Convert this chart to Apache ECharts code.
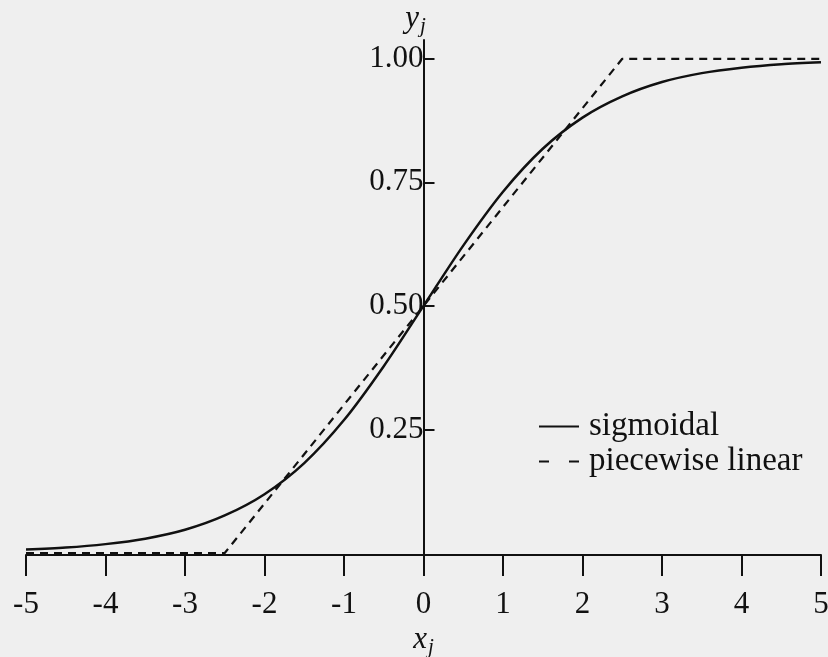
<!DOCTYPE html>
<html>
<head>
<meta charset="utf-8">
<script src="https://cdn.jsdelivr.net/npm/echarts@6/dist/echarts.min.js"></script>
<style>
html,body{margin:0;padding:0;background:#efefef;}
#chart{width:828px;height:657px;}
</style>
</head>
<body>
<div id="chart"></div>
<script>
// Sigmoidal curve at x steps of 0.5
const sigX = [-5,-4.5,-4,-3.5,-3,-2.5,-2,-1.5,-1,-0.5,0,0.5,1,1.5,2,2.5,3,3.5,4,4.5,5];
const sigY = [0.007,0.011,0.018,0.029,0.047,0.076,0.119,0.182,0.269,0.378,0.5,0.622,0.731,0.818,0.881,0.924,0.953,0.971,0.982,0.989,0.993];
// Piecewise linear approximation
const pwX = [-5,-2.5,2.5,5];
const pwY = [0,0,1,1];
// Axis ticks
const xTicks = [-5,-4,-3,-2,-1,0,1,2,3,4,5];
const yTicks = [0.25,0.5,0.75,1];
const seriesNames = ['sigmoidal','piecewise linear'];

const FONT = 'Liberation Serif';
const INK = '#111111';
const GRID = {left:26, right:7, top:40, bottom:102};
const W = 828;
// put the y axis at x = 0 (middle of the x range)
const yAxisOffset = -((W - GRID.left - GRID.right) / 2);

const chart = echarts.init(document.getElementById('chart'), null, {renderer:'canvas'});
chart.setOption({
  backgroundColor:'#efefef',
  animation:false,
  grid:Object.assign({containLabel:false, outerBoundsMode:'none'}, GRID),
  xAxis:{
    type:'value', min:-5, max:5, interval:1,
    axisLine:{onZero:false, lineStyle:{color:INK, width:2}},
    axisTick:{show:true, length:21, lineStyle:{color:INK, width:2}, customValues:xTicks},
    axisLabel:{color:INK, fontFamily:FONT, fontSize:31, margin:34, customValues:xTicks},
    splitLine:{show:false},
    name:'{a|x}{b|j}', nameLocation:'middle', nameGap:66, nameMoveOverlap:false,
    nameTextStyle:{rich:{
      a:{fontFamily:FONT, fontStyle:'italic', fontSize:31, color:INK},
      b:{fontFamily:FONT, fontStyle:'italic', fontSize:21, color:INK, padding:[16,0,0,1]}
    }}
  },
  yAxis:{
    type:'value', min:-0.004, max:1.038, position:'left', offset:yAxisOffset,
    axisLine:{onZero:false, lineStyle:{color:INK, width:2}},
    axisTick:{show:true, inside:true, length:11, lineStyle:{color:INK, width:2}, customValues:yTicks},
    axisLabel:{color:INK, fontFamily:FONT, fontSize:31, margin:0, customValues:yTicks,
      formatter:function(v){return v.toFixed(2);}},
    splitLine:{show:false},
    name:'{a|y}{b|j}', nameLocation:'end', nameGap:3, nameMoveOverlap:false,
    nameTextStyle:{align:'center', padding:[0,16,0,0], rich:{
      a:{fontFamily:FONT, fontStyle:'italic', fontSize:31, color:INK},
      b:{fontFamily:FONT, fontStyle:'italic', fontSize:21, color:INK, padding:[16,0,0,1]}
    }}
  },
  legend:{
    orient:'vertical', left:538, top:410, padding:0, itemWidth:40, itemHeight:14, itemGap:2,
    itemStyle:{opacity:0},
    textStyle:{fontFamily:FONT, fontSize:33, color:INK, lineHeight:33, padding:[0,0,0,5]},
    data:[
      {name:seriesNames[0], itemStyle:{opacity:0}, lineStyle:{type:'solid', width:2, color:INK}},
      {name:seriesNames[1], itemStyle:{opacity:0}, lineStyle:{type:[10,20], width:2, color:INK}}
    ]
  },
  series:[
    {name:seriesNames[0], type:'line', smooth:0.3, symbol:'none',
     data:sigX.map((x,i)=>[x,sigY[i]]),
     lineStyle:{color:INK, width:2.5, type:'solid'}, itemStyle:{color:INK}},
    {name:seriesNames[1], type:'line', symbol:'none',
     data:pwX.map((x,i)=>[x,pwY[i]]),
     lineStyle:{color:INK, width:2.2, type:[8,6]}, itemStyle:{color:INK}}
  ]
});
</script>
</body>
</html>
